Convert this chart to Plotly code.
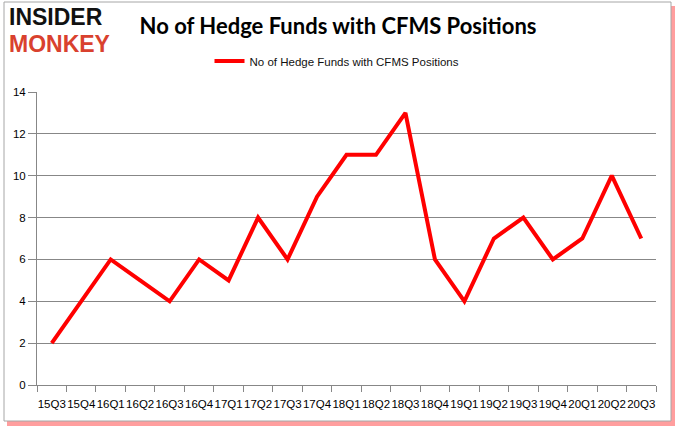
import plotly.graph_objects as go

quarters = ["15Q3", "15Q4", "16Q1", "16Q2", "16Q3", "16Q4", "17Q1", "17Q2", "17Q3",
            "17Q4", "18Q1", "18Q2", "18Q3", "18Q4", "19Q1", "19Q2", "19Q3", "19Q4",
            "20Q1", "20Q2", "20Q3"]
funds = [2, 4, 6, 5, 4, 6, 5, 8, 6, 9, 11, 11, 13, 6, 4, 7, 8, 6, 7, 10, 7]
y_ticks = [0, 2, 4, 6, 8, 10, 12, 14]
series_name = "No of Hedge Funds with CFMS Positions"
title_text = "No of Hedge Funds with CFMS Positions"

W, H = 677, 431
L, R, T, B = 37, 656, 92, 385  # plot area in pixels


def px_x(p):
    return (p - L) / (R - L)


def px_y(p):
    return (B - p) / (B - T)


fig = go.Figure()
fig.add_trace(go.Scatter(
    x=quarters, y=funds, mode="lines", name=series_name,
    line=dict(color="#ff0000", width=4),
))

grid_col = "#878787"
tick_font = dict(family="Liberation Sans, Arial, sans-serif", size=11.5, color="#000")
fig.update_layout(
    width=W, height=H, autosize=False,
    margin=dict(l=L, r=W - R, t=T, b=H - B, pad=0),
    paper_bgcolor="white", plot_bgcolor="rgba(0,0,0,0)",
    showlegend=True,
    legend=dict(orientation="h", x=px_x(337), xanchor="center", y=px_y(61), yanchor="middle",
                font=dict(family="Liberation Sans, Arial, sans-serif", size=11.5, color="#111"),
                bgcolor="rgba(0,0,0,0)", itemwidth=30),
    title=dict(text="<b>" + title_text + "</b>", x=338 / W, xanchor="center",
               y=1 - 26 / H, yanchor="middle",
               font=dict(family="Lato, Liberation Sans, sans-serif", size=22, color="#000")),
    xaxis=dict(type="category", showgrid=False, showline=True, linecolor=grid_col, linewidth=1,
               ticks="outside", tickson="boundaries", ticklen=6, tickcolor=grid_col,
               tickangle=0, tickfont=tick_font, ticklabelstandoff=8,
               range=[-0.5, len(quarters) - 0.5], fixedrange=True),
    yaxis=dict(range=[0, 14], tickvals=y_ticks, showgrid=True, gridcolor=grid_col, gridwidth=1,
               showline=True, linecolor=grid_col, linewidth=1, zeroline=False,
               ticks="outside", ticklen=8, tickcolor=grid_col, tickfont=tick_font,
               fixedrange=True),
    shapes=[
        dict(type="rect", xref="paper", yref="paper", layer="below",
             x0=px_x(7), x1=px_x(675), y0=px_y(6), y1=px_y(426),
             fillcolor="rgba(255,40,40,0.45)", line=dict(width=0)),
        dict(type="rect", xref="paper", yref="paper", layer="below",
             x0=px_x(4), x1=px_x(671), y0=px_y(2), y1=px_y(421),
             fillcolor="white", line=dict(color="#a6a6a6", width=1)),
    ],
    annotations=[
        dict(text="<b>INSIDER</b>", xref="paper", yref="paper", x=px_x(7), y=px_y(17),
             xanchor="left", yanchor="middle", showarrow=False,
             font=dict(family="Liberation Sans, Arial, sans-serif", size=23, color="#111")),
        dict(text="<b>MONKEY</b>", xref="paper", yref="paper", x=px_x(7), y=px_y(43.5),
             xanchor="left", yanchor="middle", showarrow=False,
             font=dict(family="Liberation Sans, Arial, sans-serif", size=23, color="#d9412e")),
    ],
)

fig.write_html("out.html", config={"displayModeBar": False},
               post_script="document.body.style.margin='0';")
